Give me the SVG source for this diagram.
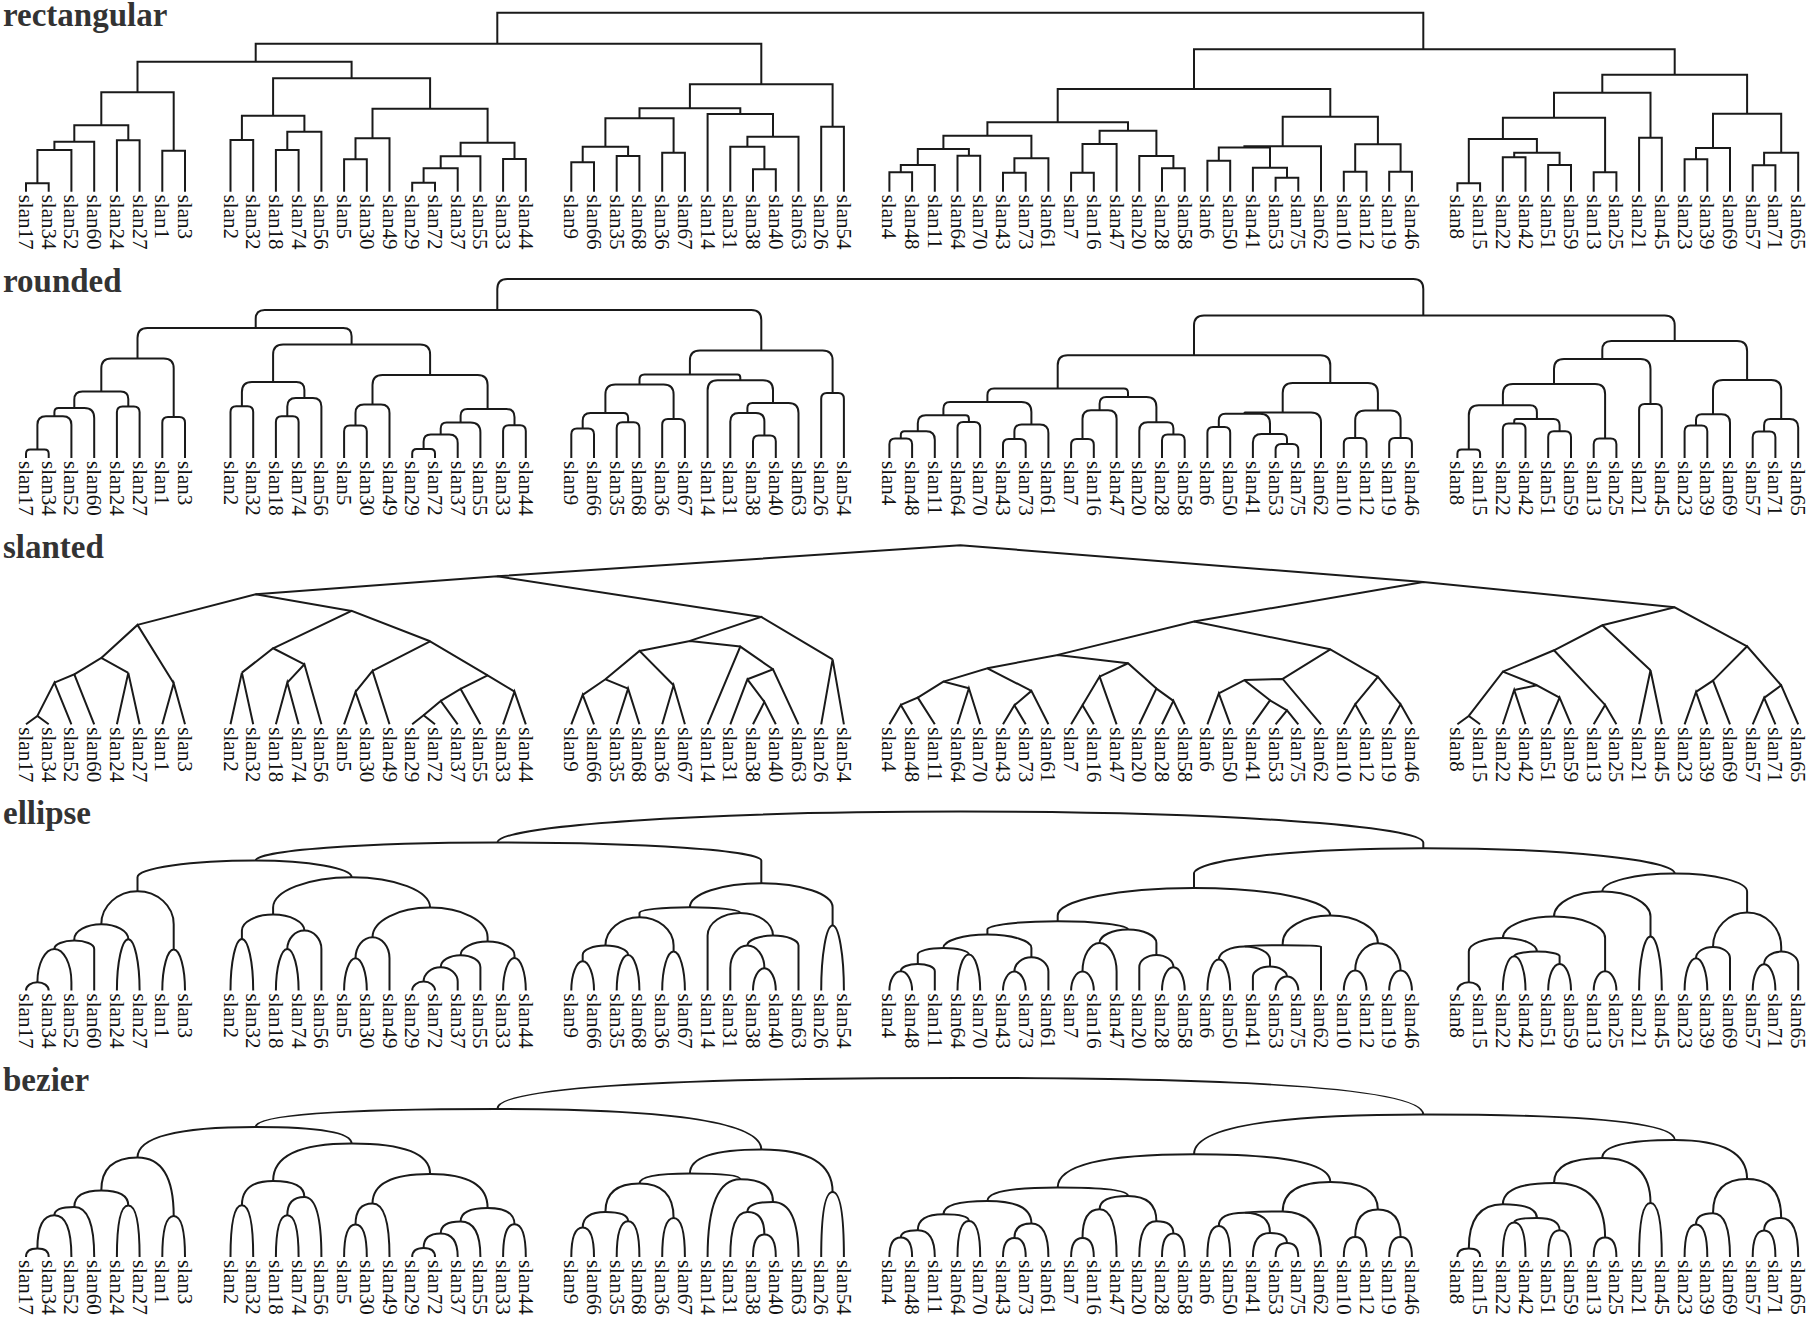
<svg xmlns="http://www.w3.org/2000/svg" width="1810" height="1318" viewBox="0 0 1810 1318">
<style>
.t{font:bold 33px "Liberation Serif",serif;fill:#333}
.e path{fill:none;stroke:#1a1a1a;stroke-width:2}
.lb text{font:21px "Liberation Serif",serif;fill:#111;dominant-baseline:central}
</style>
<rect width="1810" height="1318" fill="#fff"/>
<g id="panel-rectangular">
<text class="t" x="3" y="25.5">rectangular</text>
<g class="e" id="rect-connectors">
<path d="M26 191.7 V183.3 H48.7 V191.7"/><path d="M37.4 183.3 V150 H71.4 V191.7"/><path d="M54.4 150 V141.7 H94.2 V191.7"/><path d="M116.9 191.7 V140.3 H139.6 V191.7"/><path d="M74.3 141.7 V125.3 H128.3 V140.3"/><path d="M162.3 191.7 V150.7 H185 V191.7"/><path d="M101.3 125.3 V92.3 H173.7 V150.7"/>
<path d="M230.5 191.7 V140 H253.2 V191.7"/><path d="M275.9 191.7 V150 H298.6 V191.7"/><path d="M287.3 150 V131.7 H321.4 V191.7"/><path d="M241.9 140 V115.7 H304.4 V131.7"/><path d="M344.1 191.7 V159.3 H366.8 V191.7"/><path d="M355.5 159.3 V138.3 H389.5 V191.7"/><path d="M412.2 191.7 V182.7 H435 V191.7"/><path d="M423.6 182.7 V168.3 H457.7 V191.7"/><path d="M440.7 168.3 V156.3 H480.4 V191.7"/><path d="M503.1 191.7 V159 H525.8 V191.7"/><path d="M460.6 156.3 V142.7 H514.5 V159"/><path d="M372.5 138.3 V108.7 H487.6 V142.7"/><path d="M273.1 115.7 V78.3 H430.1 V108.7"/><path d="M137.5 92.3 V61.7 H351.6 V78.3"/>
<path d="M571.3 191.7 V162.3 H594 V191.7"/><path d="M616.7 191.7 V156 H639.4 V191.7"/><path d="M582.7 162.3 V146.7 H628.1 V156"/><path d="M662.2 191.7 V152.7 H684.9 V191.7"/><path d="M605.4 146.7 V118.3 H673.6 V152.7"/><path d="M753 191.7 V169.3 H775.8 V191.7"/><path d="M730.3 191.7 V146.7 H764.4 V169.3"/><path d="M747.4 146.7 V136.7 H798.5 V191.7"/><path d="M707.6 191.7 V114 H773 V136.7"/><path d="M639.5 118.3 V108.3 H740.3 V114"/><path d="M821.2 191.7 V126.7 H843.9 V191.7"/><path d="M689.9 108.3 V84.3 H832.6 V126.7"/><path d="M255.7 61.7 V43.7 H761.3 V84.3"/>
<path d="M889.4 191.7 V172.3 H912.1 V191.7"/><path d="M900.8 172.3 V165 H934.8 V191.7"/><path d="M957.5 191.7 V155.7 H980.2 V191.7"/><path d="M917.8 165 V149 H968.9 V155.7"/><path d="M1003 191.7 V172.7 H1025.7 V191.7"/><path d="M1014.4 172.7 V158.3 H1048.4 V191.7"/><path d="M943.4 149 V135.7 H1031.4 V158.3"/><path d="M1071.1 191.7 V172.7 H1093.8 V191.7"/><path d="M1082.5 172.7 V144 H1116.6 V191.7"/><path d="M1162 191.7 V168.3 H1184.7 V191.7"/><path d="M1139.3 191.7 V156 H1173.4 V168.3"/><path d="M1099.6 144 V130.7 H1156.4 V156"/><path d="M987.4 135.7 V122.3 H1128 V130.7"/><path d="M1207.4 191.7 V160.7 H1230.2 V191.7"/><path d="M1275.6 191.7 V177.7 H1298.3 V191.7"/><path d="M1252.9 191.7 V167.7 H1287 V177.7"/><path d="M1218.8 160.7 V147.5 H1270 V167.7"/><path d="M1244.4 147.5 V146.3 H1321 V191.7"/><path d="M1343.8 191.7 V171.7 H1366.5 V191.7"/><path d="M1389.2 191.7 V171.7 H1411.9 V191.7"/><path d="M1355.2 171.7 V144.3 H1400.6 V171.7"/><path d="M1282.7 146.3 V116.7 H1377.9 V144.3"/><path d="M1057.7 122.3 V89 H1330.3 V116.7"/>
<path d="M1457.4 191.7 V183.3 H1480.1 V191.7"/><path d="M1502.8 191.7 V157.3 H1525.5 V191.7"/><path d="M1548.2 191.7 V165 H1571 V191.7"/><path d="M1514.2 157.3 V152.7 H1559.6 V165"/><path d="M1468.8 183.3 V139 H1536.9 V152.7"/><path d="M1593.7 191.7 V172.3 H1616.4 V191.7"/><path d="M1502.9 139 V117.7 H1605.1 V172.3"/><path d="M1639.1 191.7 V137.7 H1661.8 V191.7"/><path d="M1554 117.7 V92.7 H1650.5 V137.7"/><path d="M1684.6 191.7 V159.3 H1707.3 V191.7"/><path d="M1696 159.3 V148 H1730 V191.7"/><path d="M1752.7 191.7 V165.3 H1775.4 V191.7"/><path d="M1764.1 165.3 V152.7 H1798.2 V191.7"/><path d="M1713 148 V113.7 H1781.2 V152.7"/><path d="M1602.3 92.7 V74.7 H1747.1 V113.7"/><path d="M1194 89 V49.3 H1674.7 V74.7"/><path d="M497.3 43.7 V12.7 H1423.3 V49.3"/>
</g>
<g class="lb" transform="translate(0,194.7) rotate(90)">
<g id="rect-slan17"><text y="-26">slan17</text></g><g id="rect-slan34"><text y="-48.7">slan34</text></g><g id="rect-slan52"><text y="-71.4">slan52</text></g><g id="rect-slan60"><text y="-94.2">slan60</text></g><g id="rect-slan24"><text y="-116.9">slan24</text></g><g id="rect-slan27"><text y="-139.6">slan27</text></g><g id="rect-slan1"><text y="-162.3">slan1</text></g><g id="rect-slan3"><text y="-185">slan3</text></g>
<g id="rect-slan2"><text y="-230.5">slan2</text></g><g id="rect-slan32"><text y="-253.2">slan32</text></g><g id="rect-slan18"><text y="-275.9">slan18</text></g><g id="rect-slan74"><text y="-298.6">slan74</text></g><g id="rect-slan56"><text y="-321.4">slan56</text></g><g id="rect-slan5"><text y="-344.1">slan5</text></g><g id="rect-slan30"><text y="-366.8">slan30</text></g><g id="rect-slan49"><text y="-389.5">slan49</text></g><g id="rect-slan29"><text y="-412.2">slan29</text></g><g id="rect-slan72"><text y="-435">slan72</text></g><g id="rect-slan37"><text y="-457.7">slan37</text></g><g id="rect-slan55"><text y="-480.4">slan55</text></g><g id="rect-slan33"><text y="-503.1">slan33</text></g><g id="rect-slan44"><text y="-525.8">slan44</text></g>
<g id="rect-slan9"><text y="-571.3">slan9</text></g><g id="rect-slan66"><text y="-594">slan66</text></g><g id="rect-slan35"><text y="-616.7">slan35</text></g><g id="rect-slan68"><text y="-639.4">slan68</text></g><g id="rect-slan36"><text y="-662.2">slan36</text></g><g id="rect-slan67"><text y="-684.9">slan67</text></g><g id="rect-slan14"><text y="-707.6">slan14</text></g><g id="rect-slan31"><text y="-730.3">slan31</text></g><g id="rect-slan38"><text y="-753">slan38</text></g><g id="rect-slan40"><text y="-775.8">slan40</text></g><g id="rect-slan63"><text y="-798.5">slan63</text></g><g id="rect-slan26"><text y="-821.2">slan26</text></g><g id="rect-slan54"><text y="-843.9">slan54</text></g>
<g id="rect-slan4"><text y="-889.4">slan4</text></g><g id="rect-slan48"><text y="-912.1">slan48</text></g><g id="rect-slan11"><text y="-934.8">slan11</text></g><g id="rect-slan64"><text y="-957.5">slan64</text></g><g id="rect-slan70"><text y="-980.2">slan70</text></g><g id="rect-slan43"><text y="-1003">slan43</text></g><g id="rect-slan73"><text y="-1025.7">slan73</text></g><g id="rect-slan61"><text y="-1048.4">slan61</text></g><g id="rect-slan7"><text y="-1071.1">slan7</text></g><g id="rect-slan16"><text y="-1093.8">slan16</text></g><g id="rect-slan47"><text y="-1116.6">slan47</text></g><g id="rect-slan20"><text y="-1139.3">slan20</text></g><g id="rect-slan28"><text y="-1162">slan28</text></g><g id="rect-slan58"><text y="-1184.7">slan58</text></g><g id="rect-slan6"><text y="-1207.4">slan6</text></g><g id="rect-slan50"><text y="-1230.2">slan50</text></g><g id="rect-slan41"><text y="-1252.9">slan41</text></g><g id="rect-slan53"><text y="-1275.6">slan53</text></g><g id="rect-slan75"><text y="-1298.3">slan75</text></g><g id="rect-slan62"><text y="-1321">slan62</text></g><g id="rect-slan10"><text y="-1343.8">slan10</text></g><g id="rect-slan12"><text y="-1366.5">slan12</text></g><g id="rect-slan19"><text y="-1389.2">slan19</text></g><g id="rect-slan46"><text y="-1411.9">slan46</text></g>
<g id="rect-slan8"><text y="-1457.4">slan8</text></g><g id="rect-slan15"><text y="-1480.1">slan15</text></g><g id="rect-slan22"><text y="-1502.8">slan22</text></g><g id="rect-slan42"><text y="-1525.5">slan42</text></g><g id="rect-slan51"><text y="-1548.2">slan51</text></g><g id="rect-slan59"><text y="-1571">slan59</text></g><g id="rect-slan13"><text y="-1593.7">slan13</text></g><g id="rect-slan25"><text y="-1616.4">slan25</text></g><g id="rect-slan21"><text y="-1639.1">slan21</text></g><g id="rect-slan45"><text y="-1661.8">slan45</text></g><g id="rect-slan23"><text y="-1684.6">slan23</text></g><g id="rect-slan39"><text y="-1707.3">slan39</text></g><g id="rect-slan69"><text y="-1730">slan69</text></g><g id="rect-slan57"><text y="-1752.7">slan57</text></g><g id="rect-slan71"><text y="-1775.4">slan71</text></g><g id="rect-slan65"><text y="-1798.2">slan65</text></g>
</g>
</g>
<g id="panel-rounded" transform="translate(0,266.3)">
<text class="t" x="3" y="25.5">rounded</text>
<g class="e" id="round-connectors">
<path d="M26 191.7 V187.5 Q26 183.3 30.2 183.3 H44.5 Q48.7 183.3 48.7 187.5 V191.7"/><path d="M37.4 183.3 V158.5 Q37.4 150 45.9 150 H62.9 Q71.4 150 71.4 158.5 V191.7"/><path d="M54.4 150 V145.9 Q54.4 141.7 58.6 141.7 H84.3 Q94.2 141.7 94.2 151.6 V191.7"/><path d="M116.9 191.7 V146 Q116.9 140.3 122.6 140.3 H133.9 Q139.6 140.3 139.6 146 V191.7"/><path d="M74.3 141.7 V133.5 Q74.3 125.3 82.5 125.3 H120.8 Q128.3 125.3 128.3 132.8 V140.3"/><path d="M162.3 191.7 V156.4 Q162.3 150.7 168 150.7 H179.3 Q185 150.7 185 156.4 V191.7"/><path d="M101.3 125.3 V102.3 Q101.3 92.3 111.3 92.3 H163.7 Q173.7 92.3 173.7 102.3 V150.7"/>
<path d="M230.5 191.7 V145.7 Q230.5 140 236.2 140 H247.5 Q253.2 140 253.2 145.7 V191.7"/><path d="M275.9 191.7 V155.7 Q275.9 150 281.6 150 H292.9 Q298.6 150 298.6 155.7 V191.7"/><path d="M287.3 150 V140.2 Q287.3 131.7 295.8 131.7 H312.9 Q321.4 131.7 321.4 140.2 V191.7"/><path d="M241.9 140 V125.7 Q241.9 115.7 251.9 115.7 H296.4 Q304.4 115.7 304.4 123.7 V131.7"/><path d="M344.1 191.7 V165 Q344.1 159.3 349.8 159.3 H361.1 Q366.8 159.3 366.8 165 V191.7"/><path d="M355.5 159.3 V146.8 Q355.5 138.3 364 138.3 H381 Q389.5 138.3 389.5 146.8 V191.7"/><path d="M412.2 191.7 V187.2 Q412.2 182.7 416.7 182.7 H430.5 Q435 182.7 435 187.2 V191.7"/><path d="M423.6 182.7 V175.5 Q423.6 168.3 430.8 168.3 H449.2 Q457.7 168.3 457.7 176.8 V191.7"/><path d="M440.7 168.3 V162.3 Q440.7 156.3 446.7 156.3 H470.5 Q480.4 156.3 480.4 166.2 V191.7"/><path d="M503.1 191.7 V164.7 Q503.1 159 508.8 159 H520.1 Q525.8 159 525.8 164.7 V191.7"/><path d="M460.6 156.3 V149.5 Q460.6 142.7 467.4 142.7 H506.3 Q514.5 142.7 514.5 150.9 V159"/><path d="M372.5 138.3 V118.7 Q372.5 108.7 382.5 108.7 H477.6 Q487.6 108.7 487.6 118.7 V142.7"/><path d="M273.1 115.7 V88.3 Q273.1 78.3 283.1 78.3 H420.1 Q430.1 78.3 430.1 88.3 V108.7"/><path d="M137.5 92.3 V71.7 Q137.5 61.7 147.5 61.7 H343.3 Q351.6 61.7 351.6 70 V78.3"/>
<path d="M571.3 191.7 V168 Q571.3 162.3 577 162.3 H588.3 Q594 162.3 594 168 V191.7"/><path d="M616.7 191.7 V161.7 Q616.7 156 622.4 156 H633.7 Q639.4 156 639.4 161.7 V191.7"/><path d="M582.7 162.3 V154.5 Q582.7 146.7 590.5 146.7 H623.4 Q628.1 146.7 628.1 151.4 V156"/><path d="M662.2 191.7 V158.4 Q662.2 152.7 667.9 152.7 H679.2 Q684.9 152.7 684.9 158.4 V191.7"/><path d="M605.4 146.7 V128.3 Q605.4 118.3 615.4 118.3 H663.6 Q673.6 118.3 673.6 128.3 V152.7"/><path d="M753 191.7 V175 Q753 169.3 758.7 169.3 H770.1 Q775.8 169.3 775.8 175 V191.7"/><path d="M730.3 191.7 V155.2 Q730.3 146.7 738.8 146.7 H755.9 Q764.4 146.7 764.4 155.2 V169.3"/><path d="M747.4 146.7 V141.7 Q747.4 136.7 752.4 136.7 H788.5 Q798.5 136.7 798.5 146.7 V191.7"/><path d="M707.6 191.7 V124 Q707.6 114 717.6 114 H763 Q773 114 773 124 V136.7"/><path d="M639.5 118.3 V113.3 Q639.5 108.3 644.5 108.3 H737.4 Q740.3 108.3 740.3 111.2 V114"/><path d="M821.2 191.7 V132.4 Q821.2 126.7 826.9 126.7 H838.2 Q843.9 126.7 843.9 132.4 V191.7"/><path d="M689.9 108.3 V94.3 Q689.9 84.3 699.9 84.3 H822.6 Q832.6 84.3 832.6 94.3 V126.7"/><path d="M255.7 61.7 V52.7 Q255.7 43.7 264.7 43.7 H751.3 Q761.3 43.7 761.3 53.7 V84.3"/>
<path d="M889.4 191.7 V178 Q889.4 172.3 895.1 172.3 H906.4 Q912.1 172.3 912.1 178 V191.7"/><path d="M900.8 172.3 V168.7 Q900.8 165 904.5 165 H926.3 Q934.8 165 934.8 173.5 V191.7"/><path d="M957.5 191.7 V161.4 Q957.5 155.7 963.2 155.7 H974.5 Q980.2 155.7 980.2 161.4 V191.7"/><path d="M917.8 165 V157 Q917.8 149 925.8 149 H965.5 Q968.9 149 968.9 152.4 V155.7"/><path d="M1003 191.7 V178.4 Q1003 172.7 1008.7 172.7 H1020 Q1025.7 172.7 1025.7 178.4 V191.7"/><path d="M1014.4 172.7 V165.5 Q1014.4 158.3 1021.6 158.3 H1039.9 Q1048.4 158.3 1048.4 166.8 V191.7"/><path d="M943.4 149 V142.4 Q943.4 135.7 950.1 135.7 H1021.4 Q1031.4 135.7 1031.4 145.7 V158.3"/><path d="M1071.1 191.7 V178.4 Q1071.1 172.7 1076.8 172.7 H1088.1 Q1093.8 172.7 1093.8 178.4 V191.7"/><path d="M1082.5 172.7 V152.5 Q1082.5 144 1091 144 H1108.1 Q1116.6 144 1116.6 152.5 V191.7"/><path d="M1162 191.7 V174 Q1162 168.3 1167.7 168.3 H1179 Q1184.7 168.3 1184.7 174 V191.7"/><path d="M1139.3 191.7 V164.5 Q1139.3 156 1147.8 156 H1167.2 Q1173.4 156 1173.4 162.2 V168.3"/><path d="M1099.6 144 V137.4 Q1099.6 130.7 1106.3 130.7 H1146.4 Q1156.4 130.7 1156.4 140.7 V156"/><path d="M987.4 135.7 V129 Q987.4 122.3 994.1 122.3 H1123.8 Q1128 122.3 1128 126.5 V130.7"/><path d="M1207.4 191.7 V166.4 Q1207.4 160.7 1213.1 160.7 H1224.5 Q1230.2 160.7 1230.2 166.4 V191.7"/><path d="M1275.6 191.7 V183.4 Q1275.6 177.7 1281.3 177.7 H1292.6 Q1298.3 177.7 1298.3 183.4 V191.7"/><path d="M1252.9 191.7 V176.2 Q1252.9 167.7 1261.4 167.7 H1282 Q1287 167.7 1287 172.7 V177.7"/><path d="M1218.8 160.7 V154.1 Q1218.8 147.5 1225.4 147.5 H1260 Q1270 147.5 1270 157.5 V167.7"/><path d="M1244.4 147.5 V146.9 Q1244.4 146.3 1245 146.3 H1311 Q1321 146.3 1321 156.3 V191.7"/><path d="M1343.8 191.7 V177.4 Q1343.8 171.7 1349.5 171.7 H1360.8 Q1366.5 171.7 1366.5 177.4 V191.7"/><path d="M1389.2 191.7 V177.4 Q1389.2 171.7 1394.9 171.7 H1406.2 Q1411.9 171.7 1411.9 177.4 V191.7"/><path d="M1355.2 171.7 V154.3 Q1355.2 144.3 1365.2 144.3 H1390.6 Q1400.6 144.3 1400.6 154.3 V171.7"/><path d="M1282.7 146.3 V126.7 Q1282.7 116.7 1292.7 116.7 H1367.9 Q1377.9 116.7 1377.9 126.7 V144.3"/><path d="M1057.7 122.3 V99 Q1057.7 89 1067.7 89 H1320.3 Q1330.3 89 1330.3 99 V116.7"/>
<path d="M1457.4 191.7 V187.5 Q1457.4 183.3 1461.6 183.3 H1475.9 Q1480.1 183.3 1480.1 187.5 V191.7"/><path d="M1502.8 191.7 V163 Q1502.8 157.3 1508.5 157.3 H1519.8 Q1525.5 157.3 1525.5 163 V191.7"/><path d="M1548.2 191.7 V170.7 Q1548.2 165 1553.9 165 H1565.3 Q1571 165 1571 170.7 V191.7"/><path d="M1514.2 157.3 V155 Q1514.2 152.7 1516.5 152.7 H1553.4 Q1559.6 152.7 1559.6 158.9 V165"/><path d="M1468.8 183.3 V149 Q1468.8 139 1478.8 139 H1530 Q1536.9 139 1536.9 145.9 V152.7"/><path d="M1593.7 191.7 V178 Q1593.7 172.3 1599.4 172.3 H1610.7 Q1616.4 172.3 1616.4 178 V191.7"/><path d="M1502.9 139 V127.7 Q1502.9 117.7 1512.9 117.7 H1595.1 Q1605.1 117.7 1605.1 127.7 V172.3"/><path d="M1639.1 191.7 V143.4 Q1639.1 137.7 1644.8 137.7 H1656.1 Q1661.8 137.7 1661.8 143.4 V191.7"/><path d="M1554 117.7 V102.7 Q1554 92.7 1564 92.7 H1640.5 Q1650.5 92.7 1650.5 102.7 V137.7"/><path d="M1684.6 191.7 V165 Q1684.6 159.3 1690.3 159.3 H1701.6 Q1707.3 159.3 1707.3 165 V191.7"/><path d="M1696 159.3 V153.7 Q1696 148 1701.7 148 H1721.5 Q1730 148 1730 156.5 V191.7"/><path d="M1752.7 191.7 V171 Q1752.7 165.3 1758.4 165.3 H1769.7 Q1775.4 165.3 1775.4 171 V191.7"/><path d="M1764.1 165.3 V159 Q1764.1 152.7 1770.4 152.7 H1789.7 Q1798.2 152.7 1798.2 161.2 V191.7"/><path d="M1713 148 V123.7 Q1713 113.7 1723 113.7 H1771.2 Q1781.2 113.7 1781.2 123.7 V152.7"/><path d="M1602.3 92.7 V83.7 Q1602.3 74.7 1611.3 74.7 H1737.1 Q1747.1 74.7 1747.1 84.7 V113.7"/><path d="M1194 89 V59.3 Q1194 49.3 1204 49.3 H1664.7 Q1674.7 49.3 1674.7 59.3 V74.7"/><path d="M497.3 43.7 V22.7 Q497.3 12.7 507.3 12.7 H1413.3 Q1423.3 12.7 1423.3 22.7 V49.3"/>
</g>
<g class="lb" transform="translate(0,194.7) rotate(90)">
<g id="round-slan17"><text y="-26">slan17</text></g><g id="round-slan34"><text y="-48.7">slan34</text></g><g id="round-slan52"><text y="-71.4">slan52</text></g><g id="round-slan60"><text y="-94.2">slan60</text></g><g id="round-slan24"><text y="-116.9">slan24</text></g><g id="round-slan27"><text y="-139.6">slan27</text></g><g id="round-slan1"><text y="-162.3">slan1</text></g><g id="round-slan3"><text y="-185">slan3</text></g>
<g id="round-slan2"><text y="-230.5">slan2</text></g><g id="round-slan32"><text y="-253.2">slan32</text></g><g id="round-slan18"><text y="-275.9">slan18</text></g><g id="round-slan74"><text y="-298.6">slan74</text></g><g id="round-slan56"><text y="-321.4">slan56</text></g><g id="round-slan5"><text y="-344.1">slan5</text></g><g id="round-slan30"><text y="-366.8">slan30</text></g><g id="round-slan49"><text y="-389.5">slan49</text></g><g id="round-slan29"><text y="-412.2">slan29</text></g><g id="round-slan72"><text y="-435">slan72</text></g><g id="round-slan37"><text y="-457.7">slan37</text></g><g id="round-slan55"><text y="-480.4">slan55</text></g><g id="round-slan33"><text y="-503.1">slan33</text></g><g id="round-slan44"><text y="-525.8">slan44</text></g>
<g id="round-slan9"><text y="-571.3">slan9</text></g><g id="round-slan66"><text y="-594">slan66</text></g><g id="round-slan35"><text y="-616.7">slan35</text></g><g id="round-slan68"><text y="-639.4">slan68</text></g><g id="round-slan36"><text y="-662.2">slan36</text></g><g id="round-slan67"><text y="-684.9">slan67</text></g><g id="round-slan14"><text y="-707.6">slan14</text></g><g id="round-slan31"><text y="-730.3">slan31</text></g><g id="round-slan38"><text y="-753">slan38</text></g><g id="round-slan40"><text y="-775.8">slan40</text></g><g id="round-slan63"><text y="-798.5">slan63</text></g><g id="round-slan26"><text y="-821.2">slan26</text></g><g id="round-slan54"><text y="-843.9">slan54</text></g>
<g id="round-slan4"><text y="-889.4">slan4</text></g><g id="round-slan48"><text y="-912.1">slan48</text></g><g id="round-slan11"><text y="-934.8">slan11</text></g><g id="round-slan64"><text y="-957.5">slan64</text></g><g id="round-slan70"><text y="-980.2">slan70</text></g><g id="round-slan43"><text y="-1003">slan43</text></g><g id="round-slan73"><text y="-1025.7">slan73</text></g><g id="round-slan61"><text y="-1048.4">slan61</text></g><g id="round-slan7"><text y="-1071.1">slan7</text></g><g id="round-slan16"><text y="-1093.8">slan16</text></g><g id="round-slan47"><text y="-1116.6">slan47</text></g><g id="round-slan20"><text y="-1139.3">slan20</text></g><g id="round-slan28"><text y="-1162">slan28</text></g><g id="round-slan58"><text y="-1184.7">slan58</text></g><g id="round-slan6"><text y="-1207.4">slan6</text></g><g id="round-slan50"><text y="-1230.2">slan50</text></g><g id="round-slan41"><text y="-1252.9">slan41</text></g><g id="round-slan53"><text y="-1275.6">slan53</text></g><g id="round-slan75"><text y="-1298.3">slan75</text></g><g id="round-slan62"><text y="-1321">slan62</text></g><g id="round-slan10"><text y="-1343.8">slan10</text></g><g id="round-slan12"><text y="-1366.5">slan12</text></g><g id="round-slan19"><text y="-1389.2">slan19</text></g><g id="round-slan46"><text y="-1411.9">slan46</text></g>
<g id="round-slan8"><text y="-1457.4">slan8</text></g><g id="round-slan15"><text y="-1480.1">slan15</text></g><g id="round-slan22"><text y="-1502.8">slan22</text></g><g id="round-slan42"><text y="-1525.5">slan42</text></g><g id="round-slan51"><text y="-1548.2">slan51</text></g><g id="round-slan59"><text y="-1571">slan59</text></g><g id="round-slan13"><text y="-1593.7">slan13</text></g><g id="round-slan25"><text y="-1616.4">slan25</text></g><g id="round-slan21"><text y="-1639.1">slan21</text></g><g id="round-slan45"><text y="-1661.8">slan45</text></g><g id="round-slan23"><text y="-1684.6">slan23</text></g><g id="round-slan39"><text y="-1707.3">slan39</text></g><g id="round-slan69"><text y="-1730">slan69</text></g><g id="round-slan57"><text y="-1752.7">slan57</text></g><g id="round-slan71"><text y="-1775.4">slan71</text></g><g id="round-slan65"><text y="-1798.2">slan65</text></g>
</g>
</g>
<g id="panel-slanted" transform="translate(0,532.6)">
<text class="t" x="3" y="25.5">slanted</text>
<g class="e" id="slant-connectors">
<path d="M26 191.7 L37.4 183.3 L48.7 191.7"/><path d="M37.4 183.3 L54.4 150 L71.4 191.7"/><path d="M54.4 150 L74.3 141.7 L94.2 191.7"/><path d="M116.9 191.7 L128.3 140.3 L139.6 191.7"/><path d="M74.3 141.7 L101.3 125.3 L128.3 140.3"/><path d="M162.3 191.7 L173.7 150.7 L185 191.7"/><path d="M101.3 125.3 L137.5 92.3 L173.7 150.7"/>
<path d="M230.5 191.7 L241.9 140 L253.2 191.7"/><path d="M275.9 191.7 L287.3 150 L298.6 191.7"/><path d="M287.3 150 L304.4 131.7 L321.4 191.7"/><path d="M241.9 140 L273.1 115.7 L304.4 131.7"/><path d="M344.1 191.7 L355.5 159.3 L366.8 191.7"/><path d="M355.5 159.3 L372.5 138.3 L389.5 191.7"/><path d="M412.2 191.7 L423.6 182.7 L435 191.7"/><path d="M423.6 182.7 L440.7 168.3 L457.7 191.7"/><path d="M440.7 168.3 L460.6 156.3 L480.4 191.7"/><path d="M503.1 191.7 L514.5 159 L525.8 191.7"/><path d="M460.6 156.3 L487.6 142.7 L514.5 159"/><path d="M372.5 138.3 L430.1 108.7 L487.6 142.7"/><path d="M273.1 115.7 L351.6 78.3 L430.1 108.7"/><path d="M137.5 92.3 L255.7 61.7 L351.6 78.3"/>
<path d="M571.3 191.7 L582.7 162.3 L594 191.7"/><path d="M616.7 191.7 L628.1 156 L639.4 191.7"/><path d="M582.7 162.3 L605.4 146.7 L628.1 156"/><path d="M662.2 191.7 L673.6 152.7 L684.9 191.7"/><path d="M605.4 146.7 L639.5 118.3 L673.6 152.7"/><path d="M753 191.7 L764.4 169.3 L775.8 191.7"/><path d="M730.3 191.7 L747.4 146.7 L764.4 169.3"/><path d="M747.4 146.7 L773 136.7 L798.5 191.7"/><path d="M707.6 191.7 L740.3 114 L773 136.7"/><path d="M639.5 118.3 L689.9 108.3 L740.3 114"/><path d="M821.2 191.7 L832.6 126.7 L843.9 191.7"/><path d="M689.9 108.3 L761.3 84.3 L832.6 126.7"/><path d="M255.7 61.7 L497.3 43.7 L761.3 84.3"/>
<path d="M889.4 191.7 L900.8 172.3 L912.1 191.7"/><path d="M900.8 172.3 L917.8 165 L934.8 191.7"/><path d="M957.5 191.7 L968.9 155.7 L980.2 191.7"/><path d="M917.8 165 L943.4 149 L968.9 155.7"/><path d="M1003 191.7 L1014.4 172.7 L1025.7 191.7"/><path d="M1014.4 172.7 L1031.4 158.3 L1048.4 191.7"/><path d="M943.4 149 L987.4 135.7 L1031.4 158.3"/><path d="M1071.1 191.7 L1082.5 172.7 L1093.8 191.7"/><path d="M1082.5 172.7 L1099.6 144 L1116.6 191.7"/><path d="M1162 191.7 L1173.4 168.3 L1184.7 191.7"/><path d="M1139.3 191.7 L1156.4 156 L1173.4 168.3"/><path d="M1099.6 144 L1128 130.7 L1156.4 156"/><path d="M987.4 135.7 L1057.7 122.3 L1128 130.7"/><path d="M1207.4 191.7 L1218.8 160.7 L1230.2 191.7"/><path d="M1275.6 191.7 L1287 177.7 L1298.3 191.7"/><path d="M1252.9 191.7 L1270 167.7 L1287 177.7"/><path d="M1218.8 160.7 L1244.4 147.5 L1270 167.7"/><path d="M1244.4 147.5 L1282.7 146.3 L1321 191.7"/><path d="M1343.8 191.7 L1355.2 171.7 L1366.5 191.7"/><path d="M1389.2 191.7 L1400.6 171.7 L1411.9 191.7"/><path d="M1355.2 171.7 L1377.9 144.3 L1400.6 171.7"/><path d="M1282.7 146.3 L1330.3 116.7 L1377.9 144.3"/><path d="M1057.7 122.3 L1194 89 L1330.3 116.7"/>
<path d="M1457.4 191.7 L1468.8 183.3 L1480.1 191.7"/><path d="M1502.8 191.7 L1514.2 157.3 L1525.5 191.7"/><path d="M1548.2 191.7 L1559.6 165 L1571 191.7"/><path d="M1514.2 157.3 L1536.9 152.7 L1559.6 165"/><path d="M1468.8 183.3 L1502.9 139 L1536.9 152.7"/><path d="M1593.7 191.7 L1605.1 172.3 L1616.4 191.7"/><path d="M1502.9 139 L1554 117.7 L1605.1 172.3"/><path d="M1639.1 191.7 L1650.5 137.7 L1661.8 191.7"/><path d="M1554 117.7 L1602.3 92.7 L1650.5 137.7"/><path d="M1684.6 191.7 L1696 159.3 L1707.3 191.7"/><path d="M1696 159.3 L1713 148 L1730 191.7"/><path d="M1752.7 191.7 L1764.1 165.3 L1775.4 191.7"/><path d="M1764.1 165.3 L1781.2 152.7 L1798.2 191.7"/><path d="M1713 148 L1747.1 113.7 L1781.2 152.7"/><path d="M1602.3 92.7 L1674.7 74.7 L1747.1 113.7"/><path d="M1194 89 L1423.3 49.3 L1674.7 74.7"/><path d="M497.3 43.7 L960.3 12.7 L1423.3 49.3"/>
</g>
<g class="lb" transform="translate(0,194.7) rotate(90)">
<g id="slant-slan17"><text y="-26">slan17</text></g><g id="slant-slan34"><text y="-48.7">slan34</text></g><g id="slant-slan52"><text y="-71.4">slan52</text></g><g id="slant-slan60"><text y="-94.2">slan60</text></g><g id="slant-slan24"><text y="-116.9">slan24</text></g><g id="slant-slan27"><text y="-139.6">slan27</text></g><g id="slant-slan1"><text y="-162.3">slan1</text></g><g id="slant-slan3"><text y="-185">slan3</text></g>
<g id="slant-slan2"><text y="-230.5">slan2</text></g><g id="slant-slan32"><text y="-253.2">slan32</text></g><g id="slant-slan18"><text y="-275.9">slan18</text></g><g id="slant-slan74"><text y="-298.6">slan74</text></g><g id="slant-slan56"><text y="-321.4">slan56</text></g><g id="slant-slan5"><text y="-344.1">slan5</text></g><g id="slant-slan30"><text y="-366.8">slan30</text></g><g id="slant-slan49"><text y="-389.5">slan49</text></g><g id="slant-slan29"><text y="-412.2">slan29</text></g><g id="slant-slan72"><text y="-435">slan72</text></g><g id="slant-slan37"><text y="-457.7">slan37</text></g><g id="slant-slan55"><text y="-480.4">slan55</text></g><g id="slant-slan33"><text y="-503.1">slan33</text></g><g id="slant-slan44"><text y="-525.8">slan44</text></g>
<g id="slant-slan9"><text y="-571.3">slan9</text></g><g id="slant-slan66"><text y="-594">slan66</text></g><g id="slant-slan35"><text y="-616.7">slan35</text></g><g id="slant-slan68"><text y="-639.4">slan68</text></g><g id="slant-slan36"><text y="-662.2">slan36</text></g><g id="slant-slan67"><text y="-684.9">slan67</text></g><g id="slant-slan14"><text y="-707.6">slan14</text></g><g id="slant-slan31"><text y="-730.3">slan31</text></g><g id="slant-slan38"><text y="-753">slan38</text></g><g id="slant-slan40"><text y="-775.8">slan40</text></g><g id="slant-slan63"><text y="-798.5">slan63</text></g><g id="slant-slan26"><text y="-821.2">slan26</text></g><g id="slant-slan54"><text y="-843.9">slan54</text></g>
<g id="slant-slan4"><text y="-889.4">slan4</text></g><g id="slant-slan48"><text y="-912.1">slan48</text></g><g id="slant-slan11"><text y="-934.8">slan11</text></g><g id="slant-slan64"><text y="-957.5">slan64</text></g><g id="slant-slan70"><text y="-980.2">slan70</text></g><g id="slant-slan43"><text y="-1003">slan43</text></g><g id="slant-slan73"><text y="-1025.7">slan73</text></g><g id="slant-slan61"><text y="-1048.4">slan61</text></g><g id="slant-slan7"><text y="-1071.1">slan7</text></g><g id="slant-slan16"><text y="-1093.8">slan16</text></g><g id="slant-slan47"><text y="-1116.6">slan47</text></g><g id="slant-slan20"><text y="-1139.3">slan20</text></g><g id="slant-slan28"><text y="-1162">slan28</text></g><g id="slant-slan58"><text y="-1184.7">slan58</text></g><g id="slant-slan6"><text y="-1207.4">slan6</text></g><g id="slant-slan50"><text y="-1230.2">slan50</text></g><g id="slant-slan41"><text y="-1252.9">slan41</text></g><g id="slant-slan53"><text y="-1275.6">slan53</text></g><g id="slant-slan75"><text y="-1298.3">slan75</text></g><g id="slant-slan62"><text y="-1321">slan62</text></g><g id="slant-slan10"><text y="-1343.8">slan10</text></g><g id="slant-slan12"><text y="-1366.5">slan12</text></g><g id="slant-slan19"><text y="-1389.2">slan19</text></g><g id="slant-slan46"><text y="-1411.9">slan46</text></g>
<g id="slant-slan8"><text y="-1457.4">slan8</text></g><g id="slant-slan15"><text y="-1480.1">slan15</text></g><g id="slant-slan22"><text y="-1502.8">slan22</text></g><g id="slant-slan42"><text y="-1525.5">slan42</text></g><g id="slant-slan51"><text y="-1548.2">slan51</text></g><g id="slant-slan59"><text y="-1571">slan59</text></g><g id="slant-slan13"><text y="-1593.7">slan13</text></g><g id="slant-slan25"><text y="-1616.4">slan25</text></g><g id="slant-slan21"><text y="-1639.1">slan21</text></g><g id="slant-slan45"><text y="-1661.8">slan45</text></g><g id="slant-slan23"><text y="-1684.6">slan23</text></g><g id="slant-slan39"><text y="-1707.3">slan39</text></g><g id="slant-slan69"><text y="-1730">slan69</text></g><g id="slant-slan57"><text y="-1752.7">slan57</text></g><g id="slant-slan71"><text y="-1775.4">slan71</text></g><g id="slant-slan65"><text y="-1798.2">slan65</text></g>
</g>
</g>
<g id="panel-ellipse" transform="translate(0,798.9)">
<text class="t" x="3" y="25.5">ellipse</text>
<g class="e" id="ellipse-connectors">
<path d="M26 191.7 A11.4 8.4 0 0 1 37.4 183.3 A11.3 8.4 0 0 1 48.7 191.7"/><path d="M37.4 183.3 A17 33.3 0 0 1 54.4 150 A17 33.3 0 0 1 71.4 183.3 V191.7"/><path d="M54.4 150 A19.9 8.3 0 0 1 74.3 141.7 A19.9 8.3 0 0 1 94.2 150 V191.7"/><path d="M116.9 191.7 A11.4 51.4 0 0 1 128.3 140.3 A11.3 51.4 0 0 1 139.6 191.7"/><path d="M74.3 141.7 V140.3 A27 15 0 0 1 101.3 125.3 A27 15 0 0 1 128.3 140.3"/><path d="M162.3 191.7 A11.4 41 0 0 1 173.7 150.7 A11.3 41 0 0 1 185 191.7"/><path d="M101.3 125.3 A36.2 33 0 0 1 137.5 92.3 A36.2 33 0 0 1 173.7 125.3 V150.7"/>
<path d="M230.5 191.7 A11.4 51.7 0 0 1 241.9 140 A11.3 51.7 0 0 1 253.2 191.7"/><path d="M275.9 191.7 A11.4 41.7 0 0 1 287.3 150 A11.3 41.7 0 0 1 298.6 191.7"/><path d="M287.3 150 A17.1 18.3 0 0 1 304.4 131.7 A17 18.3 0 0 1 321.4 150 V191.7"/><path d="M241.9 140 V131.7 A31.2 16 0 0 1 273.1 115.7 A31.3 16 0 0 1 304.4 131.7"/><path d="M344.1 191.7 A11.4 32.4 0 0 1 355.5 159.3 A11.3 32.4 0 0 1 366.8 191.7"/><path d="M355.5 159.3 A17 21 0 0 1 372.5 138.3 A17 21 0 0 1 389.5 159.3 V191.7"/><path d="M412.2 191.7 A11.4 9 0 0 1 423.6 182.7 A11.4 9 0 0 1 435 191.7"/><path d="M423.6 182.7 A17.1 14.4 0 0 1 440.7 168.3 A17 14.4 0 0 1 457.7 182.7 V191.7"/><path d="M440.7 168.3 A19.9 12 0 0 1 460.6 156.3 A19.8 12 0 0 1 480.4 168.3 V191.7"/><path d="M503.1 191.7 A11.4 32.7 0 0 1 514.5 159 A11.3 32.7 0 0 1 525.8 191.7"/><path d="M460.6 156.3 A27 13.6 0 0 1 487.6 142.7 A26.9 13.6 0 0 1 514.5 156.3 V159"/><path d="M372.5 138.3 A57.6 29.6 0 0 1 430.1 108.7 A57.5 29.6 0 0 1 487.6 138.3 V142.7"/><path d="M273.1 115.7 V108.7 A78.5 30.4 0 0 1 351.6 78.3 A78.5 30.4 0 0 1 430.1 108.7"/><path d="M137.5 92.3 V78.3 A118.2 16.6 0 0 1 255.7 61.7 A95.9 16.6 0 0 1 351.6 78.3"/>
<path d="M571.3 191.7 A11.4 29.4 0 0 1 582.7 162.3 A11.3 29.4 0 0 1 594 191.7"/><path d="M616.7 191.7 A11.4 35.7 0 0 1 628.1 156 A11.3 35.7 0 0 1 639.4 191.7"/><path d="M582.7 162.3 V156 A22.7 9.3 0 0 1 605.4 146.7 A22.7 9.3 0 0 1 628.1 156"/><path d="M662.2 191.7 A11.4 39 0 0 1 673.6 152.7 A11.3 39 0 0 1 684.9 191.7"/><path d="M605.4 146.7 A34.1 28.4 0 0 1 639.5 118.3 A34.1 28.4 0 0 1 673.6 146.7 V152.7"/><path d="M753 191.7 A11.4 22.4 0 0 1 764.4 169.3 A11.4 22.4 0 0 1 775.8 191.7"/><path d="M730.3 191.7 V169.3 A17.1 22.6 0 0 1 747.4 146.7 A17 22.6 0 0 1 764.4 169.3"/><path d="M747.4 146.7 A25.6 10 0 0 1 773 136.7 A25.5 10 0 0 1 798.5 146.7 V191.7"/><path d="M707.6 191.7 V136.7 A32.7 22.7 0 0 1 740.3 114 A32.7 22.7 0 0 1 773 136.7"/><path d="M639.5 118.3 V114 A50.4 5.7 0 0 1 689.9 108.3 A50.4 5.7 0 0 1 740.3 114"/><path d="M821.2 191.7 A11.4 65 0 0 1 832.6 126.7 A11.3 65 0 0 1 843.9 191.7"/><path d="M689.9 108.3 A71.4 24 0 0 1 761.3 84.3 A71.3 24 0 0 1 832.6 108.3 V126.7"/><path d="M255.7 61.7 A241.6 18 0 0 1 497.3 43.7 A264 18 0 0 1 761.3 61.7 V84.3"/>
<path d="M889.4 191.7 A11.4 19.4 0 0 1 900.8 172.3 A11.3 19.4 0 0 1 912.1 191.7"/><path d="M900.8 172.3 A17 7.3 0 0 1 917.8 165 A17 7.3 0 0 1 934.8 172.3 V191.7"/><path d="M957.5 191.7 A11.4 36 0 0 1 968.9 155.7 A11.3 36 0 0 1 980.2 191.7"/><path d="M917.8 165 V155.7 A25.6 6.7 0 0 1 943.4 149 A25.5 6.7 0 0 1 968.9 155.7"/><path d="M1003 191.7 A11.4 19 0 0 1 1014.4 172.7 A11.3 19 0 0 1 1025.7 191.7"/><path d="M1014.4 172.7 A17 14.4 0 0 1 1031.4 158.3 A17 14.4 0 0 1 1048.4 172.7 V191.7"/><path d="M943.4 149 A44 13.3 0 0 1 987.4 135.7 A44 13.3 0 0 1 1031.4 149 V158.3"/><path d="M1071.1 191.7 A11.4 19 0 0 1 1082.5 172.7 A11.3 19 0 0 1 1093.8 191.7"/><path d="M1082.5 172.7 A17.1 28.7 0 0 1 1099.6 144 A17 28.7 0 0 1 1116.6 172.7 V191.7"/><path d="M1162 191.7 A11.4 23.4 0 0 1 1173.4 168.3 A11.3 23.4 0 0 1 1184.7 191.7"/><path d="M1139.3 191.7 V168.3 A17.1 12.3 0 0 1 1156.4 156 A17 12.3 0 0 1 1173.4 168.3"/><path d="M1099.6 144 A28.4 13.3 0 0 1 1128 130.7 A28.4 13.3 0 0 1 1156.4 144 V156"/><path d="M987.4 135.7 V130.7 A70.3 8.4 0 0 1 1057.7 122.3 A70.3 8.4 0 0 1 1128 130.7"/><path d="M1207.4 191.7 A11.4 31 0 0 1 1218.8 160.7 A11.4 31 0 0 1 1230.2 191.7"/><path d="M1275.6 191.7 A11.4 14 0 0 1 1287 177.7 A11.3 14 0 0 1 1298.3 191.7"/><path d="M1252.9 191.7 V177.7 A17.1 10 0 0 1 1270 167.7 A17 10 0 0 1 1287 177.7"/><path d="M1218.8 160.7 A25.6 13.2 0 0 1 1244.4 147.5 A25.6 13.2 0 0 1 1270 160.7 V167.7"/><path d="M1244.4 147.5 A38.3 1.2 0 0 1 1282.7 146.3 A38.3 1.2 0 0 1 1321 147.5 V191.7"/><path d="M1343.8 191.7 A11.4 20 0 0 1 1355.2 171.7 A11.3 20 0 0 1 1366.5 191.7"/><path d="M1389.2 191.7 A11.4 20 0 0 1 1400.6 171.7 A11.3 20 0 0 1 1411.9 191.7"/><path d="M1355.2 171.7 A22.7 27.4 0 0 1 1377.9 144.3 A22.7 27.4 0 0 1 1400.6 171.7"/><path d="M1282.7 146.3 V144.3 A47.6 27.6 0 0 1 1330.3 116.7 A47.6 27.6 0 0 1 1377.9 144.3"/><path d="M1057.7 122.3 V116.7 A136.3 27.7 0 0 1 1194 89 A136.3 27.7 0 0 1 1330.3 116.7"/>
<path d="M1457.4 191.7 A11.4 8.4 0 0 1 1468.8 183.3 A11.3 8.4 0 0 1 1480.1 191.7"/><path d="M1502.8 191.7 A11.4 34.4 0 0 1 1514.2 157.3 A11.3 34.4 0 0 1 1525.5 191.7"/><path d="M1548.2 191.7 A11.4 26.7 0 0 1 1559.6 165 A11.4 26.7 0 0 1 1571 191.7"/><path d="M1514.2 157.3 A22.7 4.6 0 0 1 1536.9 152.7 A22.7 4.6 0 0 1 1559.6 157.3 V165"/><path d="M1468.8 183.3 V152.7 A34.1 13.7 0 0 1 1502.9 139 A34 13.7 0 0 1 1536.9 152.7"/><path d="M1593.7 191.7 A11.4 19.4 0 0 1 1605.1 172.3 A11.3 19.4 0 0 1 1616.4 191.7"/><path d="M1502.9 139 A51.1 21.3 0 0 1 1554 117.7 A51.1 21.3 0 0 1 1605.1 139 V172.3"/><path d="M1639.1 191.7 A11.4 54 0 0 1 1650.5 137.7 A11.3 54 0 0 1 1661.8 191.7"/><path d="M1554 117.7 A48.3 25 0 0 1 1602.3 92.7 A48.2 25 0 0 1 1650.5 117.7 V137.7"/><path d="M1684.6 191.7 A11.4 32.4 0 0 1 1696 159.3 A11.3 32.4 0 0 1 1707.3 191.7"/><path d="M1696 159.3 A17 11.3 0 0 1 1713 148 A17 11.3 0 0 1 1730 159.3 V191.7"/><path d="M1752.7 191.7 A11.4 26.4 0 0 1 1764.1 165.3 A11.3 26.4 0 0 1 1775.4 191.7"/><path d="M1764.1 165.3 A17.1 12.6 0 0 1 1781.2 152.7 A17 12.6 0 0 1 1798.2 165.3 V191.7"/><path d="M1713 148 A34.1 34.3 0 0 1 1747.1 113.7 A34.1 34.3 0 0 1 1781.2 148 V152.7"/><path d="M1602.3 92.7 A72.4 18 0 0 1 1674.7 74.7 A72.4 18 0 0 1 1747.1 92.7 V113.7"/><path d="M1194 89 V74.7 A229.3 25.4 0 0 1 1423.3 49.3 A251.4 25.4 0 0 1 1674.7 74.7"/><path d="M497.3 43.7 A463 31 0 0 1 960.3 12.7 A463 31 0 0 1 1423.3 43.7 V49.3"/>
</g>
<g class="lb" transform="translate(0,194.7) rotate(90)">
<g id="ell-slan17"><text y="-26">slan17</text></g><g id="ell-slan34"><text y="-48.7">slan34</text></g><g id="ell-slan52"><text y="-71.4">slan52</text></g><g id="ell-slan60"><text y="-94.2">slan60</text></g><g id="ell-slan24"><text y="-116.9">slan24</text></g><g id="ell-slan27"><text y="-139.6">slan27</text></g><g id="ell-slan1"><text y="-162.3">slan1</text></g><g id="ell-slan3"><text y="-185">slan3</text></g>
<g id="ell-slan2"><text y="-230.5">slan2</text></g><g id="ell-slan32"><text y="-253.2">slan32</text></g><g id="ell-slan18"><text y="-275.9">slan18</text></g><g id="ell-slan74"><text y="-298.6">slan74</text></g><g id="ell-slan56"><text y="-321.4">slan56</text></g><g id="ell-slan5"><text y="-344.1">slan5</text></g><g id="ell-slan30"><text y="-366.8">slan30</text></g><g id="ell-slan49"><text y="-389.5">slan49</text></g><g id="ell-slan29"><text y="-412.2">slan29</text></g><g id="ell-slan72"><text y="-435">slan72</text></g><g id="ell-slan37"><text y="-457.7">slan37</text></g><g id="ell-slan55"><text y="-480.4">slan55</text></g><g id="ell-slan33"><text y="-503.1">slan33</text></g><g id="ell-slan44"><text y="-525.8">slan44</text></g>
<g id="ell-slan9"><text y="-571.3">slan9</text></g><g id="ell-slan66"><text y="-594">slan66</text></g><g id="ell-slan35"><text y="-616.7">slan35</text></g><g id="ell-slan68"><text y="-639.4">slan68</text></g><g id="ell-slan36"><text y="-662.2">slan36</text></g><g id="ell-slan67"><text y="-684.9">slan67</text></g><g id="ell-slan14"><text y="-707.6">slan14</text></g><g id="ell-slan31"><text y="-730.3">slan31</text></g><g id="ell-slan38"><text y="-753">slan38</text></g><g id="ell-slan40"><text y="-775.8">slan40</text></g><g id="ell-slan63"><text y="-798.5">slan63</text></g><g id="ell-slan26"><text y="-821.2">slan26</text></g><g id="ell-slan54"><text y="-843.9">slan54</text></g>
<g id="ell-slan4"><text y="-889.4">slan4</text></g><g id="ell-slan48"><text y="-912.1">slan48</text></g><g id="ell-slan11"><text y="-934.8">slan11</text></g><g id="ell-slan64"><text y="-957.5">slan64</text></g><g id="ell-slan70"><text y="-980.2">slan70</text></g><g id="ell-slan43"><text y="-1003">slan43</text></g><g id="ell-slan73"><text y="-1025.7">slan73</text></g><g id="ell-slan61"><text y="-1048.4">slan61</text></g><g id="ell-slan7"><text y="-1071.1">slan7</text></g><g id="ell-slan16"><text y="-1093.8">slan16</text></g><g id="ell-slan47"><text y="-1116.6">slan47</text></g><g id="ell-slan20"><text y="-1139.3">slan20</text></g><g id="ell-slan28"><text y="-1162">slan28</text></g><g id="ell-slan58"><text y="-1184.7">slan58</text></g><g id="ell-slan6"><text y="-1207.4">slan6</text></g><g id="ell-slan50"><text y="-1230.2">slan50</text></g><g id="ell-slan41"><text y="-1252.9">slan41</text></g><g id="ell-slan53"><text y="-1275.6">slan53</text></g><g id="ell-slan75"><text y="-1298.3">slan75</text></g><g id="ell-slan62"><text y="-1321">slan62</text></g><g id="ell-slan10"><text y="-1343.8">slan10</text></g><g id="ell-slan12"><text y="-1366.5">slan12</text></g><g id="ell-slan19"><text y="-1389.2">slan19</text></g><g id="ell-slan46"><text y="-1411.9">slan46</text></g>
<g id="ell-slan8"><text y="-1457.4">slan8</text></g><g id="ell-slan15"><text y="-1480.1">slan15</text></g><g id="ell-slan22"><text y="-1502.8">slan22</text></g><g id="ell-slan42"><text y="-1525.5">slan42</text></g><g id="ell-slan51"><text y="-1548.2">slan51</text></g><g id="ell-slan59"><text y="-1571">slan59</text></g><g id="ell-slan13"><text y="-1593.7">slan13</text></g><g id="ell-slan25"><text y="-1616.4">slan25</text></g><g id="ell-slan21"><text y="-1639.1">slan21</text></g><g id="ell-slan45"><text y="-1661.8">slan45</text></g><g id="ell-slan23"><text y="-1684.6">slan23</text></g><g id="ell-slan39"><text y="-1707.3">slan39</text></g><g id="ell-slan69"><text y="-1730">slan69</text></g><g id="ell-slan57"><text y="-1752.7">slan57</text></g><g id="ell-slan71"><text y="-1775.4">slan71</text></g><g id="ell-slan65"><text y="-1798.2">slan65</text></g>
</g>
</g>
<g id="panel-bezier" transform="translate(0,1065.2)">
<text class="t" x="3" y="25.5">bezier</text>
<g class="e" id="bezier-connectors">
<path d="M26 191.7 Q26 183.3 37.4 183.3 Q48.7 183.3 48.7 191.7"/><path d="M37.4 183.3 Q37.4 150 54.4 150 Q71.4 150 71.4 191.7"/><path d="M54.4 150 Q54.4 141.7 74.3 141.7 Q94.2 141.7 94.2 191.7"/><path d="M116.9 191.7 Q116.9 140.3 128.3 140.3 Q139.6 140.3 139.6 191.7"/><path d="M74.3 141.7 Q74.3 125.3 101.3 125.3 Q128.3 125.3 128.3 140.3"/><path d="M162.3 191.7 Q162.3 150.7 173.7 150.7 Q185 150.7 185 191.7"/><path d="M101.3 125.3 Q101.3 92.3 137.5 92.3 Q173.7 92.3 173.7 150.7"/>
<path d="M230.5 191.7 Q230.5 140 241.9 140 Q253.2 140 253.2 191.7"/><path d="M275.9 191.7 Q275.9 150 287.3 150 Q298.6 150 298.6 191.7"/><path d="M287.3 150 Q287.3 131.7 304.4 131.7 Q321.4 131.7 321.4 191.7"/><path d="M241.9 140 Q241.9 115.7 273.1 115.7 Q304.4 115.7 304.4 131.7"/><path d="M344.1 191.7 Q344.1 159.3 355.5 159.3 Q366.8 159.3 366.8 191.7"/><path d="M355.5 159.3 Q355.5 138.3 372.5 138.3 Q389.5 138.3 389.5 191.7"/><path d="M412.2 191.7 Q412.2 182.7 423.6 182.7 Q435 182.7 435 191.7"/><path d="M423.6 182.7 Q423.6 168.3 440.7 168.3 Q457.7 168.3 457.7 191.7"/><path d="M440.7 168.3 Q440.7 156.3 460.6 156.3 Q480.4 156.3 480.4 191.7"/><path d="M503.1 191.7 Q503.1 159 514.5 159 Q525.8 159 525.8 191.7"/><path d="M460.6 156.3 Q460.6 142.7 487.6 142.7 Q514.5 142.7 514.5 159"/><path d="M372.5 138.3 Q372.5 108.7 430.1 108.7 Q487.6 108.7 487.6 142.7"/><path d="M273.1 115.7 Q273.1 78.3 351.6 78.3 Q430.1 78.3 430.1 108.7"/><path d="M137.5 92.3 Q137.5 61.7 255.7 61.7 Q351.6 61.7 351.6 78.3"/>
<path d="M571.3 191.7 Q571.3 162.3 582.7 162.3 Q594 162.3 594 191.7"/><path d="M616.7 191.7 Q616.7 156 628.1 156 Q639.4 156 639.4 191.7"/><path d="M582.7 162.3 Q582.7 146.7 605.4 146.7 Q628.1 146.7 628.1 156"/><path d="M662.2 191.7 Q662.2 152.7 673.6 152.7 Q684.9 152.7 684.9 191.7"/><path d="M605.4 146.7 Q605.4 118.3 639.5 118.3 Q673.6 118.3 673.6 152.7"/><path d="M753 191.7 Q753 169.3 764.4 169.3 Q775.8 169.3 775.8 191.7"/><path d="M730.3 191.7 Q730.3 146.7 747.4 146.7 Q764.4 146.7 764.4 169.3"/><path d="M747.4 146.7 Q747.4 136.7 773 136.7 Q798.5 136.7 798.5 191.7"/><path d="M707.6 191.7 Q707.6 114 740.3 114 Q773 114 773 136.7"/><path d="M639.5 118.3 Q639.5 108.3 689.9 108.3 Q740.3 108.3 740.3 114"/><path d="M821.2 191.7 Q821.2 126.7 832.6 126.7 Q843.9 126.7 843.9 191.7"/><path d="M689.9 108.3 Q689.9 84.3 761.3 84.3 Q832.6 84.3 832.6 126.7"/><path d="M255.7 61.7 Q255.7 43.7 497.3 43.7 Q761.3 43.7 761.3 84.3"/>
<path d="M889.4 191.7 Q889.4 172.3 900.8 172.3 Q912.1 172.3 912.1 191.7"/><path d="M900.8 172.3 Q900.8 165 917.8 165 Q934.8 165 934.8 191.7"/><path d="M957.5 191.7 Q957.5 155.7 968.9 155.7 Q980.2 155.7 980.2 191.7"/><path d="M917.8 165 Q917.8 149 943.4 149 Q968.9 149 968.9 155.7"/><path d="M1003 191.7 Q1003 172.7 1014.4 172.7 Q1025.7 172.7 1025.7 191.7"/><path d="M1014.4 172.7 Q1014.4 158.3 1031.4 158.3 Q1048.4 158.3 1048.4 191.7"/><path d="M943.4 149 Q943.4 135.7 987.4 135.7 Q1031.4 135.7 1031.4 158.3"/><path d="M1071.1 191.7 Q1071.1 172.7 1082.5 172.7 Q1093.8 172.7 1093.8 191.7"/><path d="M1082.5 172.7 Q1082.5 144 1099.6 144 Q1116.6 144 1116.6 191.7"/><path d="M1162 191.7 Q1162 168.3 1173.4 168.3 Q1184.7 168.3 1184.7 191.7"/><path d="M1139.3 191.7 Q1139.3 156 1156.4 156 Q1173.4 156 1173.4 168.3"/><path d="M1099.6 144 Q1099.6 130.7 1128 130.7 Q1156.4 130.7 1156.4 156"/><path d="M987.4 135.7 Q987.4 122.3 1057.7 122.3 Q1128 122.3 1128 130.7"/><path d="M1207.4 191.7 Q1207.4 160.7 1218.8 160.7 Q1230.2 160.7 1230.2 191.7"/><path d="M1275.6 191.7 Q1275.6 177.7 1287 177.7 Q1298.3 177.7 1298.3 191.7"/><path d="M1252.9 191.7 Q1252.9 167.7 1270 167.7 Q1287 167.7 1287 177.7"/><path d="M1218.8 160.7 Q1218.8 147.5 1244.4 147.5 Q1270 147.5 1270 167.7"/><path d="M1244.4 147.5 Q1244.4 146.3 1282.7 146.3 Q1321 146.3 1321 191.7"/><path d="M1343.8 191.7 Q1343.8 171.7 1355.2 171.7 Q1366.5 171.7 1366.5 191.7"/><path d="M1389.2 191.7 Q1389.2 171.7 1400.6 171.7 Q1411.9 171.7 1411.9 191.7"/><path d="M1355.2 171.7 Q1355.2 144.3 1377.9 144.3 Q1400.6 144.3 1400.6 171.7"/><path d="M1282.7 146.3 Q1282.7 116.7 1330.3 116.7 Q1377.9 116.7 1377.9 144.3"/><path d="M1057.7 122.3 Q1057.7 89 1194 89 Q1330.3 89 1330.3 116.7"/>
<path d="M1457.4 191.7 Q1457.4 183.3 1468.8 183.3 Q1480.1 183.3 1480.1 191.7"/><path d="M1502.8 191.7 Q1502.8 157.3 1514.2 157.3 Q1525.5 157.3 1525.5 191.7"/><path d="M1548.2 191.7 Q1548.2 165 1559.6 165 Q1571 165 1571 191.7"/><path d="M1514.2 157.3 Q1514.2 152.7 1536.9 152.7 Q1559.6 152.7 1559.6 165"/><path d="M1468.8 183.3 Q1468.8 139 1502.9 139 Q1536.9 139 1536.9 152.7"/><path d="M1593.7 191.7 Q1593.7 172.3 1605.1 172.3 Q1616.4 172.3 1616.4 191.7"/><path d="M1502.9 139 Q1502.9 117.7 1554 117.7 Q1605.1 117.7 1605.1 172.3"/><path d="M1639.1 191.7 Q1639.1 137.7 1650.5 137.7 Q1661.8 137.7 1661.8 191.7"/><path d="M1554 117.7 Q1554 92.7 1602.3 92.7 Q1650.5 92.7 1650.5 137.7"/><path d="M1684.6 191.7 Q1684.6 159.3 1696 159.3 Q1707.3 159.3 1707.3 191.7"/><path d="M1696 159.3 Q1696 148 1713 148 Q1730 148 1730 191.7"/><path d="M1752.7 191.7 Q1752.7 165.3 1764.1 165.3 Q1775.4 165.3 1775.4 191.7"/><path d="M1764.1 165.3 Q1764.1 152.7 1781.2 152.7 Q1798.2 152.7 1798.2 191.7"/><path d="M1713 148 Q1713 113.7 1747.1 113.7 Q1781.2 113.7 1781.2 152.7"/><path d="M1602.3 92.7 Q1602.3 74.7 1674.7 74.7 Q1747.1 74.7 1747.1 113.7"/><path d="M1194 89 Q1194 49.3 1423.3 49.3 Q1674.7 49.3 1674.7 74.7"/><path d="M497.3 43.7 Q497.3 12.7 960.3 12.7 Q1423.3 12.7 1423.3 49.3"/>
</g>
<g class="lb" transform="translate(0,194.7) rotate(90)">
<g id="bez-slan17"><text y="-26">slan17</text></g><g id="bez-slan34"><text y="-48.7">slan34</text></g><g id="bez-slan52"><text y="-71.4">slan52</text></g><g id="bez-slan60"><text y="-94.2">slan60</text></g><g id="bez-slan24"><text y="-116.9">slan24</text></g><g id="bez-slan27"><text y="-139.6">slan27</text></g><g id="bez-slan1"><text y="-162.3">slan1</text></g><g id="bez-slan3"><text y="-185">slan3</text></g>
<g id="bez-slan2"><text y="-230.5">slan2</text></g><g id="bez-slan32"><text y="-253.2">slan32</text></g><g id="bez-slan18"><text y="-275.9">slan18</text></g><g id="bez-slan74"><text y="-298.6">slan74</text></g><g id="bez-slan56"><text y="-321.4">slan56</text></g><g id="bez-slan5"><text y="-344.1">slan5</text></g><g id="bez-slan30"><text y="-366.8">slan30</text></g><g id="bez-slan49"><text y="-389.5">slan49</text></g><g id="bez-slan29"><text y="-412.2">slan29</text></g><g id="bez-slan72"><text y="-435">slan72</text></g><g id="bez-slan37"><text y="-457.7">slan37</text></g><g id="bez-slan55"><text y="-480.4">slan55</text></g><g id="bez-slan33"><text y="-503.1">slan33</text></g><g id="bez-slan44"><text y="-525.8">slan44</text></g>
<g id="bez-slan9"><text y="-571.3">slan9</text></g><g id="bez-slan66"><text y="-594">slan66</text></g><g id="bez-slan35"><text y="-616.7">slan35</text></g><g id="bez-slan68"><text y="-639.4">slan68</text></g><g id="bez-slan36"><text y="-662.2">slan36</text></g><g id="bez-slan67"><text y="-684.9">slan67</text></g><g id="bez-slan14"><text y="-707.6">slan14</text></g><g id="bez-slan31"><text y="-730.3">slan31</text></g><g id="bez-slan38"><text y="-753">slan38</text></g><g id="bez-slan40"><text y="-775.8">slan40</text></g><g id="bez-slan63"><text y="-798.5">slan63</text></g><g id="bez-slan26"><text y="-821.2">slan26</text></g><g id="bez-slan54"><text y="-843.9">slan54</text></g>
<g id="bez-slan4"><text y="-889.4">slan4</text></g><g id="bez-slan48"><text y="-912.1">slan48</text></g><g id="bez-slan11"><text y="-934.8">slan11</text></g><g id="bez-slan64"><text y="-957.5">slan64</text></g><g id="bez-slan70"><text y="-980.2">slan70</text></g><g id="bez-slan43"><text y="-1003">slan43</text></g><g id="bez-slan73"><text y="-1025.7">slan73</text></g><g id="bez-slan61"><text y="-1048.4">slan61</text></g><g id="bez-slan7"><text y="-1071.1">slan7</text></g><g id="bez-slan16"><text y="-1093.8">slan16</text></g><g id="bez-slan47"><text y="-1116.6">slan47</text></g><g id="bez-slan20"><text y="-1139.3">slan20</text></g><g id="bez-slan28"><text y="-1162">slan28</text></g><g id="bez-slan58"><text y="-1184.7">slan58</text></g><g id="bez-slan6"><text y="-1207.4">slan6</text></g><g id="bez-slan50"><text y="-1230.2">slan50</text></g><g id="bez-slan41"><text y="-1252.9">slan41</text></g><g id="bez-slan53"><text y="-1275.6">slan53</text></g><g id="bez-slan75"><text y="-1298.3">slan75</text></g><g id="bez-slan62"><text y="-1321">slan62</text></g><g id="bez-slan10"><text y="-1343.8">slan10</text></g><g id="bez-slan12"><text y="-1366.5">slan12</text></g><g id="bez-slan19"><text y="-1389.2">slan19</text></g><g id="bez-slan46"><text y="-1411.9">slan46</text></g>
<g id="bez-slan8"><text y="-1457.4">slan8</text></g><g id="bez-slan15"><text y="-1480.1">slan15</text></g><g id="bez-slan22"><text y="-1502.8">slan22</text></g><g id="bez-slan42"><text y="-1525.5">slan42</text></g><g id="bez-slan51"><text y="-1548.2">slan51</text></g><g id="bez-slan59"><text y="-1571">slan59</text></g><g id="bez-slan13"><text y="-1593.7">slan13</text></g><g id="bez-slan25"><text y="-1616.4">slan25</text></g><g id="bez-slan21"><text y="-1639.1">slan21</text></g><g id="bez-slan45"><text y="-1661.8">slan45</text></g><g id="bez-slan23"><text y="-1684.6">slan23</text></g><g id="bez-slan39"><text y="-1707.3">slan39</text></g><g id="bez-slan69"><text y="-1730">slan69</text></g><g id="bez-slan57"><text y="-1752.7">slan57</text></g><g id="bez-slan71"><text y="-1775.4">slan71</text></g><g id="bez-slan65"><text y="-1798.2">slan65</text></g>
</g>
</g>
</svg>
